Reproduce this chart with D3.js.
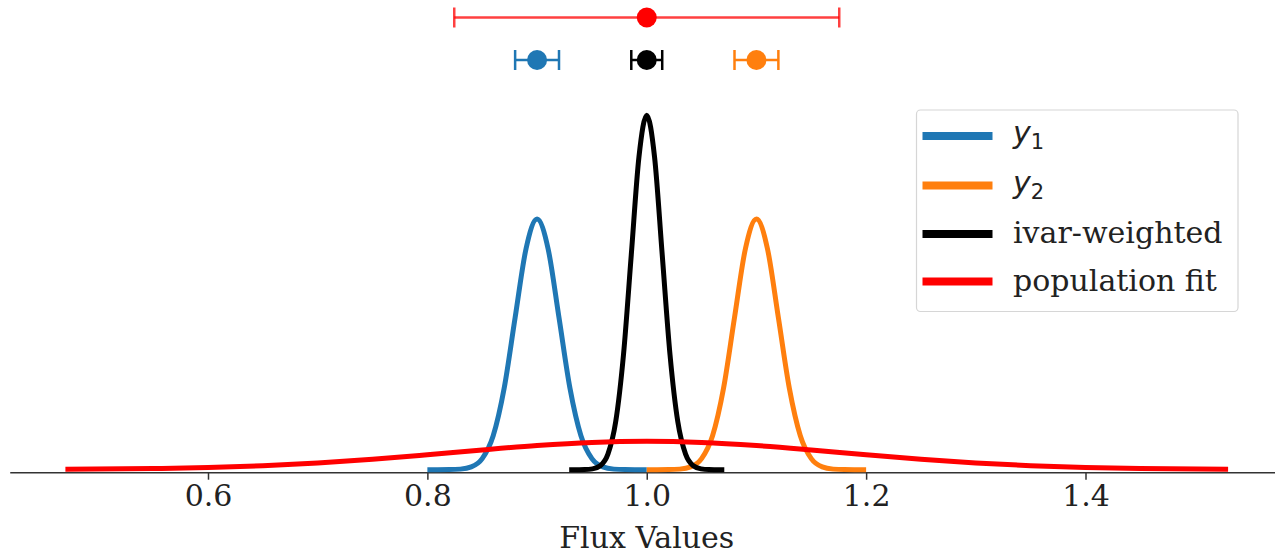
<!DOCTYPE html>
<html>
<head>
<meta charset="utf-8">
<script src="https://cdn.jsdelivr.net/npm/d3@7"></script>
<style>
  html, body { margin: 0; padding: 0; background: #fff; }
  svg { display: block; }
</style>
</head>
<body>
<svg id="chart" width="1275" height="554"></svg>
<script>
// ---- data ----
const tickValues = [0.6, 0.8, 1.0, 1.2, 1.4];
const tickLabels = ["0.6", "0.8", "1.0", "1.2", "1.4"];

const y1X = [0.80, 0.82, 0.83, 0.84, 0.85, 0.86, 0.87, 0.88, 0.89, 0.90, 0.91, 0.92, 0.93, 0.94, 0.95, 0.96, 0.97, 0.98, 1.00];
const y1D = [0, 0.007, 0.044, 0.22, 0.88, 2.70, 6.48, 12.10, 17.61, 19.95, 17.61, 12.10, 6.48, 2.70, 0.88, 0.22, 0.044, 0.007, 0];

const y2X = [1.00, 1.02, 1.03, 1.04, 1.05, 1.06, 1.07, 1.08, 1.09, 1.10, 1.11, 1.12, 1.13, 1.14, 1.15, 1.16, 1.17, 1.18, 1.20];
const y2D = [0, 0.007, 0.044, 0.22, 0.88, 2.70, 6.48, 12.10, 17.61, 19.95, 17.61, 12.10, 6.48, 2.70, 0.88, 0.22, 0.044, 0.007, 0];

const ivarX = [0.9293, 0.9434, 0.9505, 0.9576, 0.9646, 0.9717, 0.9788, 0.9859, 0.9929, 1.0, 1.0071, 1.0141, 1.0212, 1.0283, 1.0354, 1.0424, 1.0495, 1.0566, 1.0707];
const ivarD = [0, 0.0095, 0.062, 0.313, 1.24, 3.82, 9.16, 17.11, 24.90, 28.21, 24.90, 17.11, 9.16, 3.82, 1.24, 0.313, 0.062, 0.0095, 0];

const popX = [0.47, 0.55, 0.60, 0.65, 0.70, 0.75, 0.80, 0.85, 0.90, 0.95, 1.00, 1.05, 1.10, 1.15, 1.20, 1.25, 1.30, 1.35, 1.40, 1.45, 1.53];
const popD = [0.025, 0.088, 0.174, 0.317, 0.534, 0.829, 1.190, 1.575, 1.924, 2.170, 2.259, 2.170, 1.924, 1.575, 1.190, 0.829, 0.534, 0.317, 0.174, 0.088, 0.025];

// error bar summaries (mean, half-width, row: 0 = lower row, 1 = upper row)
const errNames = ["y1", "y2", "ivar", "pop"];
const errMean  = [0.90, 1.10, 1.00, 1.00];
const errHalf  = [0.020, 0.020, 0.0141, 0.1755];
const errRow   = [0, 0, 0, 1];

const seriesNames  = ["y1", "y2", "ivar", "pop"];
const legendLabels = ["y_1", "y_2", "ivar-weighted", "population fit"];

// ---- styling ----
const colors = { y1: "#1f77b4", y2: "#ff7f0e", ivar: "#000000", pop: "#ff0000" };
const serif = "'DejaVu Serif', serif";
const FS = 30;

const svg = d3.select("#chart");

const x = d3.scaleLinear().domain([0.6, 1.4]).range([208, 1085.5]);
const xMin = 0.4197, xMax = 1.5803;
const y = d3.scaleLinear().domain([-0.24, 28.21]).range([472.7, 115.3]);
const yErr = d3.scaleLinear().domain([0, 1]).range([60, 17.5]);

// curves
const line = d3.line().x(d => x(d[0])).y(d => y(d[1])).curve(d3.curveMonotoneX);
const seriesData = {
  y1: d3.zip(y1X, y1D),
  y2: d3.zip(y2X, y2D),
  ivar: d3.zip(ivarX, ivarD),
  pop: d3.zip(popX, popD)
};

// bottom axis
const axisG = svg.append("g").attr("transform", `translate(0,${y(-0.24)})`);
axisG.append("line")
  .attr("x1", x(xMin)).attr("x2", x(xMax))
  .attr("stroke", "#333").attr("stroke-width", 1.5);
const axis = d3.axisBottom(x).tickValues(tickValues)
  .tickFormat((d, i) => tickLabels[i]).tickSize(7).tickPadding(5);
const ag = axisG.append("g").call(axis);
ag.select(".domain").remove();
ag.selectAll(".tick line").attr("stroke", "#333").attr("stroke-width", 1.5);
ag.selectAll(".tick text")
  .attr("font-family", serif).attr("font-size", FS).attr("fill", "#222");

svg.append("text")
  .attr("x", x(1.0)).attr("y", 548)
  .attr("text-anchor", "middle")
  .attr("font-family", serif).attr("font-size", FS).attr("fill", "#222")
  .text("Flux Values");

// draw curves
seriesNames.forEach(k => {
  svg.append("path")
    .datum(seriesData[k])
    .attr("d", line)
    .attr("fill", "none")
    .attr("stroke", colors[k])
    .attr("stroke-width", 5)
    .attr("stroke-linejoin", "round");
});

// error bars
errNames.forEach((k, i) => {
  const g = svg.append("g");
  const cy = yErr(errRow[i]);
  const x0 = x(errMean[i] - errHalf[i]), x1 = x(errMean[i] + errHalf[i]);
  const op = k === "pop" ? 0.75 : 1;
  g.append("line").attr("x1", x0).attr("x2", x1).attr("y1", cy).attr("y2", cy)
    .attr("stroke", colors[k]).attr("stroke-width", 2.5).attr("stroke-opacity", op);
  [x0, x1].forEach(cx => {
    g.append("line").attr("x1", cx).attr("x2", cx).attr("y1", cy - 10).attr("y2", cy + 10)
      .attr("stroke", colors[k]).attr("stroke-width", 2.5).attr("stroke-opacity", op);
  });
  g.append("circle").attr("cx", x(errMean[i])).attr("cy", cy).attr("r", 10)
    .attr("fill", colors[k]);
});

// legend
const lg = svg.append("g");
lg.append("rect")
  .attr("x", 916.5).attr("y", 110).attr("width", 321.5).attr("height", 201.5)
  .attr("rx", 4).attr("ry", 4)
  .attr("fill", "#fff").attr("fill-opacity", 0.8)
  .attr("stroke", "#d6d6d6").attr("stroke-width", 1.2);
const legY = [136, 185.5, 234, 281.5];
seriesNames.forEach((k, i) => {
  lg.append("line")
    .attr("x1", 922.5).attr("x2", 992.5)
    .attr("y1", legY[i]).attr("y2", legY[i])
    .attr("stroke", colors[k]).attr("stroke-width", 8);
  const lab = legendLabels[i];
  if (lab.includes("_")) {
    const [base, sub] = lab.split("_");
    const t = lg.append("text").attr("x", 1013).attr("y", legY[i] + 7)
      .attr("font-family", "'DejaVu Sans', sans-serif").attr("font-size", FS).attr("fill", "#222");
    t.append("tspan").attr("font-style", "italic").text(base);
    t.append("tspan").attr("font-size", 21).attr("dy", 6).text(sub);
  } else {
    lg.append("text").attr("x", 1013).attr("y", legY[i] + 9)
      .attr("font-family", serif).attr("font-size", FS).attr("fill", "#222")
      .text(lab);
  }
});
</script>
</body>
</html>
